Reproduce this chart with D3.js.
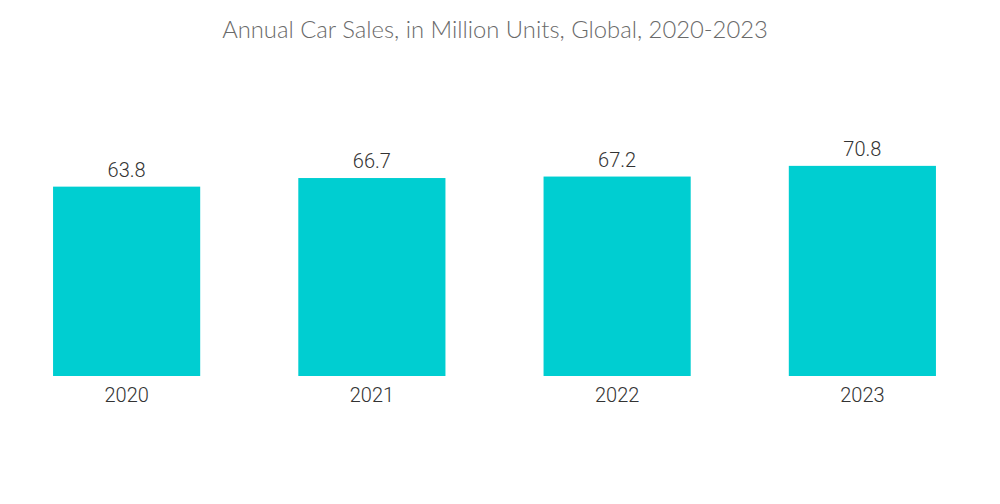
<!DOCTYPE html>
<html>
<head>
<meta charset="utf-8">
<script src="https://cdn.jsdelivr.net/npm/d3@7"></script>
<style>
  body { margin: 0; background: #fff; }
</style>
</head>
<body>
<script>
var years = ["2020", "2021", "2022", "2023"];
var sales = [63.8, 66.7, 67.2, 70.8];

var width = 1000, height = 504;

var svg = d3.select("body")
  .append("svg")
  .attr("width", width)
  .attr("height", height);

var x = d3.scaleBand()
  .domain(years)
  .range([4, 985])
  .paddingInner(0.4)
  .paddingOuter(0.2);

var y = d3.scaleLinear()
  .domain([0, 100])
  .range([376, 79.2]);

svg.append("text")
  .attr("x", 495)
  .attr("y", 38)
  .attr("text-anchor", "middle")
  .style("font-family", "Lato, 'Open Sans', sans-serif")
  .style("font-size", "23.8px")
  .style("font-weight", 300)
  .style("fill", "#6a6a6a")
  .text("Annual Car Sales, in Million Units, Global, 2020-2023");

var bars = svg.selectAll("g.bar")
  .data(years)
  .enter()
  .append("g")
  .attr("class", "bar");

bars.append("rect")
  .attr("x", function (d) { return x(d); })
  .attr("width", x.bandwidth())
  .attr("y", function (d, i) { return y(sales[i]); })
  .attr("height", function (d, i) { return y(0) - y(sales[i]); })
  .style("fill", "#00ced1");

bars.append("text")
  .attr("x", function (d) { return x(d) + x.bandwidth() / 2; })
  .attr("y", function (d, i) { return y(sales[i]) - 10; })
  .attr("text-anchor", "middle")
  .style("font-family", "Roboto, sans-serif")
  .style("font-size", "20px")
  .style("font-weight", 300)
  .style("fill", "#333")
  .text(function (d, i) { return sales[i].toFixed(1); });

var axis = svg.append("g")
  .attr("transform", "translate(0," + y(0) + ")")
  .call(d3.axisBottom(x).tickSize(0).tickPadding(12));

axis.select(".domain").remove();
axis.selectAll("text")
  .style("font-family", "Roboto, sans-serif")
  .style("font-size", "20px")
  .style("font-weight", 300)
  .style("fill", "#333");
</script>
</body>
</html>
